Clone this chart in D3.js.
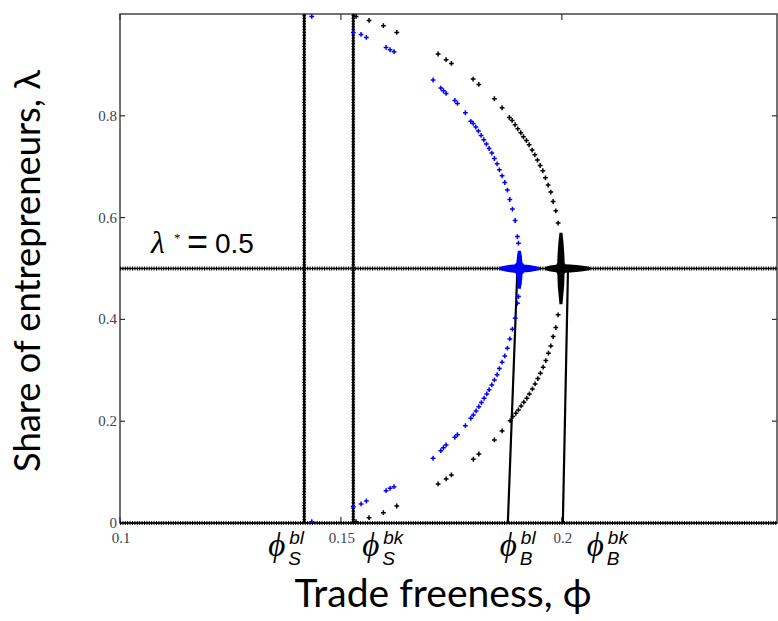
<!DOCTYPE html>
<html>
<head>
<meta charset="utf-8">
<script src="https://cdn.jsdelivr.net/npm/d3@7"></script>
<style>
  body { margin: 0; background: #fff; }
  svg { display: block; }
</style>
</head>
<body>
<div id="chart"></div>
<script>
// ---- data ----
const phiTicks = [0.1, 0.15, 0.2];
const lamTicks = [0, 0.2, 0.4, 0.6, 0.8];
const phiDomain = [0.1, 0.2487];
const lamDomain = [0, 1];

// sustain points (vertical lines) and the symmetric / core rows
const sustainPhi = [0.1417, 0.1528];
const flatLam = [0, 0.5];

// break-point lines: phi at lambda = 0 and at lambda = 0.5
const breakLines = [
    [[0.18778, 0], [0.18995, 0.5]],
    [[0.20023, 0], [0.20140, 0.5]]
];

// interior equilibria, "bl" case (blue)
const blueUpper = [
    [0.1434, 0.9953], [0.1528, 0.9638], [0.15456, 0.9599], [0.15576, 0.954],
    [0.16022, 0.9344], [0.16113, 0.9298], [0.16203, 0.9259], [0.17086, 0.8703],
    [0.17261, 0.8545], [0.1732, 0.8492], [0.17381, 0.8439], [0.17578, 0.8302],
    [0.17637, 0.8243], [0.17817, 0.806], [0.1794, 0.7892], [0.17992, 0.785],
    [0.18053, 0.7779], [0.18112, 0.77], [0.18173, 0.7614], [0.18234, 0.7529],
    [0.18293, 0.7445], [0.18354, 0.7358], [0.18415, 0.7268], [0.18474, 0.7161],
    [0.18535, 0.7057], [0.18587, 0.6939], [0.18648, 0.6821], [0.18709, 0.669],
    [0.18768, 0.654], [0.18823, 0.6356], [0.18882, 0.6167], [0.18943, 0.5943],
    [0.18995, 0.5628], [0.19018, 0.5498], [0.1904, 0.5235], [0.1904, 0.511]
];
const blueLower = [
    [0.1434, 0.0026], [0.1528, 0.032], [0.15456, 0.0374], [0.15576, 0.0432],
    [0.16022, 0.0635], [0.16113, 0.0682], [0.16203, 0.0714], [0.17086, 0.1272],
    [0.17261, 0.1421], [0.1732, 0.148], [0.17381, 0.1533], [0.17578, 0.1685],
    [0.17637, 0.1736], [0.17817, 0.1913], [0.1794, 0.2058], [0.17998, 0.2123],
    [0.18059, 0.2202], [0.18121, 0.2286], [0.1818, 0.2365], [0.18241, 0.2451],
    [0.18302, 0.2536], [0.18354, 0.262], [0.18415, 0.2713], [0.18474, 0.2811],
    [0.18535, 0.2915], [0.18587, 0.3033], [0.18648, 0.3159], [0.18709, 0.3283],
    [0.18768, 0.3434], [0.18823, 0.3617], [0.18882, 0.3808], [0.18943, 0.4024],
    [0.18995, 0.4319], [0.19018, 0.4449], [0.1904, 0.4712], [0.1904, 0.4875]
];

// interior equilibria, "bk" case (black)
const blackUpper = [
    [0.15343, 0.9953], [0.15637, 0.9874], [0.15961, 0.977], [0.16264, 0.9638],
    [0.172, 0.9214], [0.17381, 0.9102], [0.17501, 0.9029], [0.17992, 0.8722],
    [0.18121, 0.8616], [0.18474, 0.8335], [0.18648, 0.8158], [0.18814, 0.7967],
    [0.18875, 0.7909], [0.18943, 0.7824], [0.19004, 0.7745], [0.19072, 0.7667],
    [0.19131, 0.7588], [0.19199, 0.7515], [0.1926, 0.7431], [0.19328, 0.7327],
    [0.19389, 0.7234], [0.19448, 0.713], [0.19509, 0.7024], [0.1957, 0.692],
    [0.19629, 0.6782], [0.1969, 0.6639], [0.19751, 0.6501], [0.19803, 0.6316],
    [0.19864, 0.6133], [0.19916, 0.5892]
];
const blackLower = [
    [0.15343, 0.0026], [0.15637, 0.0104], [0.15961, 0.0202], [0.16264, 0.0334],
    [0.172, 0.0767], [0.17381, 0.0865], [0.17501, 0.0944], [0.17998, 0.1252],
    [0.18121, 0.1356], [0.18474, 0.1632], [0.18648, 0.1809], [0.1883, 0.2011],
    [0.18891, 0.209], [0.18959, 0.2156], [0.19018, 0.2221], [0.19078, 0.23],
    [0.1914, 0.2373], [0.19207, 0.2451], [0.19266, 0.2536], [0.19334, 0.2634],
    [0.19395, 0.2732], [0.19457, 0.2837], [0.19516, 0.2943], [0.19577, 0.3061],
    [0.19638, 0.3191], [0.19697, 0.3336], [0.19751, 0.3479], [0.19803, 0.3662],
    [0.19864, 0.3839], [0.19916, 0.4089]
];

// bifurcation clusters: phi, lambda range of the vertical spike, phi range of the horizontal spread
const blueBif = {phi: 0.1904, lamLo: 0.46, lamHi: 0.535, phiLo: 0.1858, phiHi: 0.1950};
const blackBif = {phi: 0.1998, lamLo: 0.43, lamHi: 0.57, phiLo: 0.1962, phiHi: 0.2064};

// ---- layout ----
const margin = {top: 14, right: 1, bottom: 98, left: 120};
const W = 778, H = 621;
const width = W - margin.left - margin.right;
const height = H - margin.top - margin.bottom;

const svg = d3.select("#chart").append("svg")
    .attr("width", W)
    .attr("height", H);
const g = svg.append("g")
    .attr("transform", "translate(" + margin.left + "," + margin.top + ")");

const x = d3.scaleLinear().domain(phiDomain).range([0, width]);
const y = d3.scaleLinear().domain(lamDomain).range([height, 0]);

const BLUE = "#0000ff";
const tickFont = "'Liberation Serif', 'Times New Roman', serif";
const sansFont = "'Liberation Sans', Arial, sans-serif";

// frame
g.append("rect")
    .attr("x", 0).attr("y", 0)
    .attr("width", width).attr("height", height)
    .attr("fill", "none")
    .attr("stroke", "#444")
    .attr("stroke-width", 1.5);

// inward ticks
const ticksG = g.append("g").attr("stroke", "#333").attr("stroke-width", 1.2);
phiTicks.forEach(function (t) {
    ticksG.append("line").attr("x1", x(t)).attr("x2", x(t)).attr("y1", 0).attr("y2", 6);
    ticksG.append("line").attr("x1", x(t)).attr("x2", x(t)).attr("y1", height).attr("y2", height - 6);
});
lamTicks.forEach(function (t) {
    ticksG.append("line").attr("x1", 0).attr("x2", 5).attr("y1", y(t)).attr("y2", y(t));
    ticksG.append("line").attr("x1", width).attr("x2", width - 5).attr("y1", y(t)).attr("y2", y(t));
});

// tick labels
g.append("g").selectAll("text")
    .data(phiTicks)
    .enter().append("text")
    .attr("x", function (d) { return x(d) + 1; })
    .attr("y", height + 20)
    .attr("text-anchor", "middle")
    .attr("font-family", tickFont)
    .attr("font-size", 15)
    .attr("fill", "#3a3f55")
    .text(function (d) { return d; });

g.append("g").selectAll("text")
    .data(lamTicks)
    .enter().append("text")
    .attr("x", -3)
    .attr("y", function (d) { return y(d) + 5; })
    .attr("text-anchor", "end")
    .attr("font-family", tickFont)
    .attr("font-size", 15)
    .attr("fill", "#3a3f55")
    .text(function (d) { return d; });

// rows of stable equilibria (dense + markers)
const rows = g.append("g");
flatLam.forEach(function (l) {
    rows.append("line")
        .attr("x1", x(phiDomain[0])).attr("x2", x(phiDomain[1]))
        .attr("y1", y(l)).attr("y2", y(l))
        .attr("stroke", "#000").attr("stroke-width", 1.6);
    rows.append("line")
        .attr("x1", x(phiDomain[0])).attr("x2", x(phiDomain[1]))
        .attr("y1", y(l)).attr("y2", y(l))
        .attr("stroke", "#000").attr("stroke-width", 4)
        .attr("stroke-dasharray", "1,1.4");
});

// sustain point lines
sustainPhi.forEach(function (p) {
    rows.append("line")
        .attr("x1", x(p)).attr("x2", x(p))
        .attr("y1", y(0)).attr("y2", y(1))
        .attr("stroke", "#000").attr("stroke-width", 2.4);
    rows.append("line")
        .attr("x1", x(p)).attr("x2", x(p))
        .attr("y1", y(0)).attr("y2", y(1))
        .attr("stroke", "#000").attr("stroke-width", 3.6)
        .attr("stroke-dasharray", "1.2,1.6");
});

// break point lines
const line = d3.line().x(function (d) { return x(d[0]); }).y(function (d) { return y(d[1]); });
g.append("g").selectAll("path")
    .data(breakLines)
    .enter().append("path")
    .attr("d", line)
    .attr("fill", "none")
    .attr("stroke", "#000")
    .attr("stroke-width", 2.2);

// bifurcation clusters
function drawBif(b, color, spread) {
    const cx = x(b.phi), cy = y(0.5);
    const top = y(b.lamHi), bot = y(b.lamLo);
    const l = x(b.phiLo), r = x(b.phiHi);
    const bg = g.append("g").attr("fill", color);
    // vertical spike
    bg.append("path")
        .attr("d", "M" + (cx - 1.5) + "," + top + " L" + (cx + 1.5) + "," + top +
            " Q" + (cx + spread) + "," + cy + " " + (cx + 1.5) + "," + bot +
            " L" + (cx - 1.5) + "," + bot +
            " Q" + (cx - spread) + "," + cy + " " + (cx - 1.5) + "," + top + "Z");
    // horizontal spread
    bg.append("path")
        .attr("d", "M" + l + "," + (cy - 1.5) +
            " Q" + cx + "," + (cy - 7) + " " + r + "," + (cy - 1.5) +
            " L" + r + "," + (cy + 1.5) +
            " Q" + cx + "," + (cy + 7) + " " + l + "," + (cy + 1.5) + "Z");
    bg.append("ellipse")
        .attr("cx", cx).attr("cy", cy)
        .attr("rx", 5.5).attr("ry", 7);
}
drawBif(blueBif, BLUE, 5);
drawBif(blackBif, "#000", 6);

// interior equilibria as + markers
const plus = "M-2.4,0H2.4M0,-2.4V2.4";
function drawMarkers(data, color) {
    g.append("g").selectAll("path")
        .data(data)
        .enter().append("path")
        .attr("transform", function (d) { return "translate(" + x(d[0]) + "," + y(d[1]) + ")"; })
        .attr("d", plus)
        .attr("stroke", color)
        .attr("stroke-width", 1.5)
        .attr("fill", "none");
}
drawMarkers(blueUpper, BLUE);
drawMarkers(blueLower, BLUE);
drawMarkers(blackUpper, "#000");
drawMarkers(blackLower, "#000");

// lambda* = 0.5 annotation, one text element
const ann = svg.append("text")
    .attr("x", 151).attr("y", 253);
ann.append("tspan")
    .attr("font-family", tickFont)
    .attr("font-style", "italic")
    .attr("font-size", 32)
    .text("λ");
ann.append("tspan")
    .attr("x", 174).attr("dy", -11)
    .attr("font-family", tickFont)
    .attr("font-size", 13)
    .text("*");
ann.append("tspan")
    .attr("x", 187).attr("dy", 12)
    .attr("font-family", sansFont)
    .attr("font-size", 36)
    .text("=");
ann.append("tspan")
    .attr("x", 215).attr("dy", -1)
    .attr("font-family", sansFont)
    .attr("font-size", 28)
    .text("0.5");

// phi threshold labels: phi with stacked super- and subscript
function phiLabel(px, sup, sub) {
    const lg = svg.append("g");
    lg.append("text")
        .attr("x", px).attr("y", 556)
        .attr("font-family", tickFont)
        .attr("font-style", "italic")
        .attr("font-size", 33)
        .text("ϕ");
    lg.append("text")
        .attr("x", px + 21).attr("y", 544)
        .attr("font-family", sansFont)
        .attr("font-style", "italic")
        .attr("font-size", 19)
        .text(sup);
    lg.append("text")
        .attr("x", px + 20).attr("y", 565)
        .attr("font-family", sansFont)
        .attr("font-style", "italic")
        .attr("font-size", 19)
        .text(sub);
}
phiLabel(margin.left + x(sustainPhi[0]) - 36, "bl", "S");
phiLabel(margin.left + x(sustainPhi[1]) + 9, "bk", "S");
phiLabel(margin.left + x(breakLines[0][0][0]) - 8, "bl", "B");
phiLabel(margin.left + x(breakLines[1][0][0]) + 24, "bk", "B");

// axis titles, sized to the widths seen in the picture
function fit(sel, target) {
    const w = sel.node().getComputedTextLength();
    const fs = parseFloat(sel.attr("font-size"));
    sel.attr("font-size", fs * target / w);
}
const xTitle = svg.append("text")
    .attr("x", 443).attr("y", 607)
    .attr("text-anchor", "middle")
    .attr("font-family", "Lato, 'Open Sans', sans-serif")
    .attr("font-size", 34)
    .text("Trade freeness, ϕ");
fit(xTitle, 297);

const yTitle = svg.append("text")
    .attr("transform", "translate(40,271) rotate(-90)")
    .attr("text-anchor", "middle")
    .attr("font-family", "Lato, 'Open Sans', sans-serif")
    .attr("font-size", 34)
    .text("Share of entrepreneurs, λ");
fit(yTitle, 402);
</script>
</body>
</html>
